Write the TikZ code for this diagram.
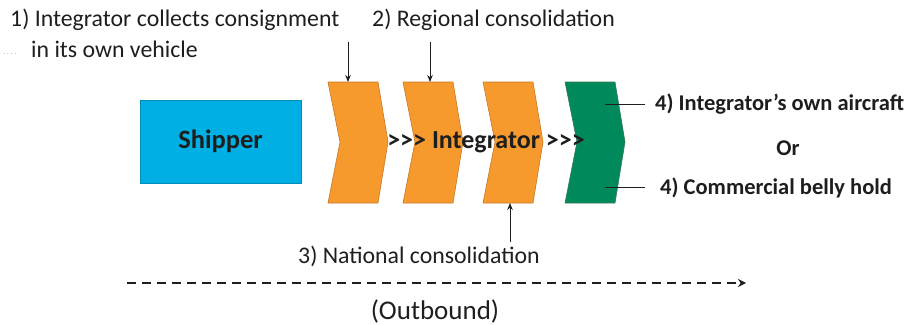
\documentclass[tikz,border=0pt]{standalone}
\usepackage{fontspec}
\setmainfont{Carlito}
\usetikzlibrary{arrows.meta}
\definecolor{shipblue}{RGB}{0,176,228}
\definecolor{orng}{RGB}{247,154,46}
\definecolor{orngdk}{RGB}{196,120,40}
\definecolor{grn}{RGB}{0,137,90}
\definecolor{grndk}{RGB}{60,120,80}
\definecolor{txt}{RGB}{30,30,30}
\tikzset{
  lbl/.style={font=\fontsize{23.8}{28}\selectfont, text=txt, inner sep=0pt, anchor=west},
  blbl/.style={font=\fontsize{22.5}{26}\selectfont\bfseries, text=txt, inner sep=0pt},
  pointer/.style={draw=txt, line width=0.8pt, -{Stealth[length=7pt,width=5.5pt]}},
  leader/.style={draw=txt, line width=0.8pt},
  chev/.style={line width=0.6pt}
}
\begin{document}
\begin{tikzpicture}[x=1pt,y=-1pt]
\useasboundingbox (0,0) rectangle (923,324);
% Shipper
\node[draw=shipblue!80!black, fill=shipblue, minimum width=161pt, minimum height=83pt, inner sep=0pt,
  font=\fontsize{26.5}{30}\selectfont\bfseries, text=txt] (ship) at (220.5,141.5) {Shipper};
% chevrons
\newcommand{\chevron}[3]{%
  \draw[chev, fill=#2, draw=#3] (#1,82) -- ++(50,0) -- ++(10,60) -- ++(-10,61) -- ++(-50,0) -- ++(12,-61) -- cycle;}
\chevron{328}{orng}{orngdk}
\chevron{403}{orng}{orngdk}
\chevron{483}{orng}{orngdk}
\chevron{565}{grn}{grndk}
\coordinate (c1top) at (348,82);
\coordinate (c2top) at (430,82);
\coordinate (c3bot) at (510,203);
\coordinate (g1) at (605,104);
\coordinate (g2) at (605,187);
% integrator text
\node[font=\fontsize{26}{30}\selectfont\bfseries, text=txt, inner sep=0pt] (integ) at (486,142) {{>}{>}{>} Integrator {>}{>}{>}};
% top labels
\node[lbl] (t1) at (10,20) {1) Integrator collects consignment};
\node[font=\fontsize{9}{10}\selectfont, text=gray!55, inner sep=0pt, anchor=west] (dots) at (3,54) {.\,.\,.\,.};
\node[lbl] (t1b) at (31,49) {in its own vehicle};
\node[lbl] (t2) at (372,20) {2) Regional consolidation};
\coordinate (a1s) at (348,42);
\coordinate (a2s) at (430,42);
\draw[pointer] (a1s) -- (c1top);
\draw[pointer] (a2s) -- (c2top);
% bottom label
\node[lbl] (t3) at (298,256) {3) National consolidation};
\coordinate (a3s) at (510,242);
\draw[pointer] (a3s) -- (c3bot);
% right labels
\node[blbl, anchor=west] (r1) at (655,104) {4) Integrator’s own aircraft};
\node[blbl] (or) at (788,148) {Or};
\node[blbl, anchor=west] (r2) at (660,188) {4) Commercial belly hold};
\draw[leader] (g1) -- (645,104);
\draw[leader] (g2) -- (645,187);
% outbound
\coordinate (d1) at (127,283);
\coordinate (d2) at (746,283);
\draw[txt, line width=2pt, dash pattern=on 9pt off 6pt, -{Stealth[length=8pt,width=8pt]}] (d1) -- (d2);
\node[font=\fontsize{27}{31}\selectfont, text=txt, inner sep=0pt] (out) at (435,311) {(Outbound)};
\end{tikzpicture}
\end{document}
